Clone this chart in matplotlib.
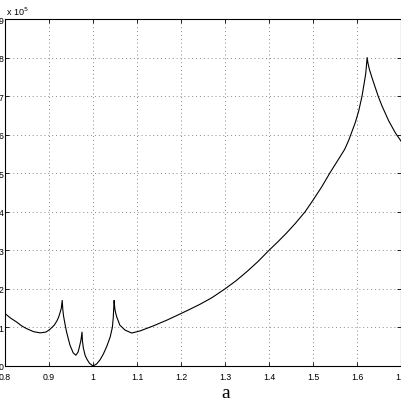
import numpy as np
import matplotlib
matplotlib.use("Agg")
import matplotlib.pyplot as plt

# values (y in units of 1e5)
a_vals = [0.800, 0.813, 0.8265, 0.838, 0.849, 0.865, 0.880, 0.893, 0.902, 0.912,
          0.918, 0.922, 0.925, 0.928, 0.930, 0.9315, 0.933, 0.937, 0.940, 0.944,
          0.948, 0.955, 0.961, 0.966, 0.969, 0.972, 0.973, 0.975, 0.976, 0.978,
          0.982, 0.986, 0.992, 1.000, 1.008, 1.016, 1.0235, 1.031, 1.039, 1.044,
          1.046, 1.048, 1.0495, 1.051, 1.054, 1.061, 1.073, 1.088, 1.107, 1.137,
          1.168, 1.198, 1.220, 1.243, 1.270, 1.300, 1.325, 1.350, 1.375, 1.400,
          1.420, 1.440, 1.460, 1.482, 1.500, 1.520, 1.538, 1.560, 1.572, 1.581,
          1.596, 1.604, 1.6114, 1.618, 1.620, 1.623, 1.625, 1.628, 1.634, 1.6416,
          1.649, 1.657, 1.672, 1.687, 1.702]
y_vals = [1.36, 1.24, 1.14, 1.04, 0.97, 0.89, 0.86, 0.88, 0.95, 1.06,
          1.17, 1.27, 1.38, 1.50, 1.70, 1.45, 1.30, 1.05, 0.88, 0.70,
          0.53, 0.34, 0.28, 0.36, 0.49, 0.64, 0.70, 0.88, 0.65, 0.47,
          0.28, 0.18, 0.07, 0.00, 0.05, 0.16, 0.31, 0.50, 0.75, 1.00,
          1.25, 1.70, 1.50, 1.40, 1.27, 1.06, 0.93, 0.855, 0.91, 1.04,
          1.19, 1.35, 1.47, 1.60, 1.77, 2.00, 2.21, 2.45, 2.71, 3.00,
          3.22, 3.45, 3.70, 4.00, 4.30, 4.65, 5.00, 5.40, 5.62, 5.85,
          6.31, 6.62, 7.00, 7.45, 7.60, 8.00, 7.85, 7.70, 7.48, 7.22,
          6.97, 6.74, 6.36, 6.05, 5.80]

x_ticks = [0.8, 0.9, 1.0, 1.1, 1.2, 1.3, 1.4, 1.5, 1.6, 1.7]
x_ticklabels = ["0.8", "0.9", "1", "1.1", "1.2", "1.3", "1.4", "1.5", "1.6", "1.7"]
y_ticks = [0, 1, 2, 3, 4, 5, 6, 7, 8, 9]

plt.rcParams['font.family'] = ['Liberation Sans', 'DejaVu Sans']

fig = plt.figure(figsize=(4.02, 4.02), dpi=100)
ax = fig.add_axes([5/402, 1 - 367/402, 396/402, 347/402])

ax.plot(a_vals, y_vals, color='black', linewidth=0.8)

ax.set_xlim(0.8, 1.7)
ax.set_ylim(0, 9)
ax.set_xticks(x_ticks)
ax.set_xticklabels(x_ticklabels)
ax.set_yticks(y_ticks)
ax.grid(True, linestyle=(0, (1, 3)), color='#8a8a8a', linewidth=0.7)
ax.tick_params(direction='in', length=3, width=0.6, labelsize=6.3,
               top=True, right=True, pad=4)
ax.tick_params(axis='y', pad=1)
for s in ax.spines.values():
    s.set_linewidth(0.8)

fig.text(6/402, 1 - 16/402, r"x 10$^5$", fontsize=6.5)
fig.text(226/402, 1 - 398/402, "a", fontsize=14, ha='center',
         family='Liberation Serif')

fig.savefig("out.png", dpi=100)
